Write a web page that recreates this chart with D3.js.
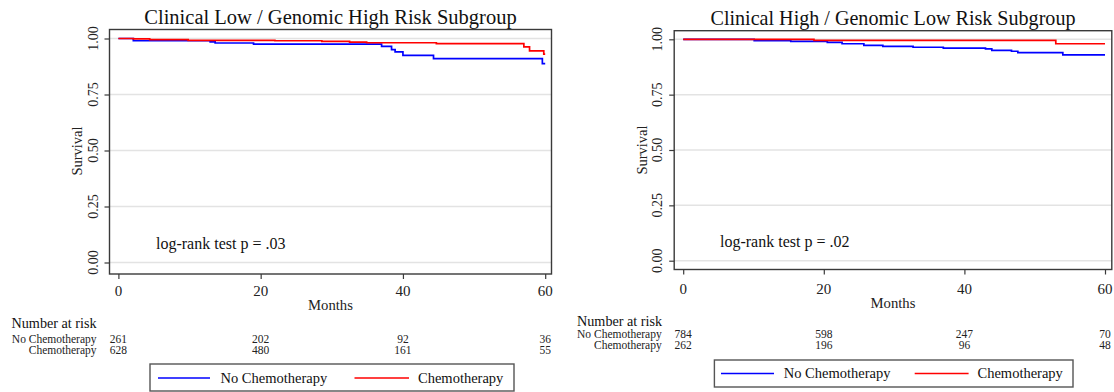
<!DOCTYPE html>
<html><head><meta charset="utf-8">
<script src="https://cdn.jsdelivr.net/npm/d3@7"></script>
<style>html,body{margin:0;padding:0;background:#fff;}svg{display:block;font-family:"Liberation Serif","Times New Roman",serif;}</style>
</head><body>
<svg id="chart" width="1114" height="392"></svg>
<script>
// ---- data ----
const xTicks = [0, 20, 40, 60];
const yTicks = [0, 0.25, 0.5, 0.75, 1];
const yTickLabels = ["0.00", "0.25", "0.50", "0.75", "1.00"];
const seriesNames = ["No Chemotherapy", "Chemotherapy"];
const titles = ["Clinical Low / Genomic High Risk Subgroup", "Clinical High / Genomic Low Risk Subgroup"];
const pTexts = ["log-rank test p = .03", "log-rank test p = .02"];

const leftNoChemoT = [0, 2.1, 12.9, 13.6, 19, 37, 38.4, 38.9, 40, 44.3, 59.6, 60];
const leftNoChemoS = [1.0, 0.990, 0.985, 0.980, 0.975, 0.965, 0.950, 0.940, 0.925, 0.910, 0.888, 0.888];
const leftChemoT = [0, 2.1, 4.4, 9.8, 22, 28.6, 32.5, 34.9, 44.7, 57.0, 57.8, 59.8, 60];
const leftChemoS = [1.0, 0.998, 0.995, 0.992, 0.990, 0.987, 0.984, 0.981, 0.977, 0.963, 0.945, 0.930, 0.930];

const rightNoChemoT = [0, 10.1, 15.3, 20.5, 22.6, 25.7, 28.4, 32.7, 37, 43, 43.9, 46.7, 47.6, 54, 60];
const rightNoChemoS = [1.0, 0.994, 0.991, 0.986, 0.980, 0.973, 0.968, 0.964, 0.960, 0.957, 0.950, 0.946, 0.940, 0.930, 0.930];
const rightChemoT = [0, 18.6, 53, 60];
const rightChemoS = [1.0, 0.995, 0.980, 0.980];

const leftRiskNoChemo = [261, 202, 92, 36];
const leftRiskChemo = [628, 480, 161, 55];
const rightRiskNoChemo = [784, 598, 247, 70];
const rightRiskChemo = [262, 196, 96, 48];

const colors = ["#0000ff", "#ff0000"];

// ---- layout ----
const panels = [
  {title: titles[0], p: pTexts[0],
   curves: [[leftNoChemoT, leftNoChemoS], [leftChemoT, leftChemoS]],
   risk: [leftRiskNoChemo, leftRiskChemo],
   frame: {l: 109.5, r: 551.5, t: 29.5, b: 274},
   xr: [118.4, 545.2], yr: [262.5, 38.5],
   titleY: 24, titleSize: 20.5,
   ylabX: 93, survX: 77, survY: 151,
   xlabY: 295.5, monthsY: 309.5,
   pX: 156, pY: 248.5,
   narX: 11.5, narY: 327.5, rowLabX: 96.5, rowY: [342.5, 354],
   leg: {x1: 150, x2: 514, y1: 364, y2: 391, lineY: 378, items: [[158, 210, 220.5], [354.5, 409, 418]], textY: 383.3}
  },
  {title: titles[1], p: pTexts[1],
   curves: [[rightNoChemoT, rightNoChemoS], [rightChemoT, rightChemoS]],
   risk: [rightRiskNoChemo, rightRiskChemo],
   frame: {l: 674.2, r: 1111.8, t: 30.7, b: 269.5},
   xr: [683.2, 1105], yr: [260.7, 39.3],
   titleY: 25, titleSize: 20.1,
   ylabX: 657.5, survX: 642, survY: 150,
   xlabY: 293.5, monthsY: 308,
   pX: 720, pY: 246.5,
   narX: 577, narY: 325.5, rowLabX: 661.7, rowY: [337.5, 348.5],
   leg: {x1: 714.4, x2: 1073, y1: 360, y2: 387, lineY: 373.5, items: [[721, 774, 783.7], [914.7, 968.6, 977.5]], textY: 377.5}
  }
];

const svg = d3.select("#chart");

panels.forEach(P => {
  const g = svg.append("g");
  const x = d3.scaleLinear().domain([0, 60]).range(P.xr);
  const y = d3.scaleLinear().domain([0, 1]).range(P.yr);
  const f = P.frame;

  g.append("text").attr("x", (f.l + f.r) / 2).attr("y", P.titleY)
    .attr("text-anchor", "middle").attr("font-size", P.titleSize).attr("fill", "#111").text(P.title);

  g.selectAll(".grid").data(yTicks).join("line")
    .attr("x1", f.l).attr("x2", f.r)
    .attr("y1", d => y(d)).attr("y2", d => y(d))
    .attr("stroke", "#e3e3e3").attr("stroke-width", 1.5);

  P.curves.forEach((c, i) => {
    const pts = c[0].map((t, k) => [t, c[1][k]]);
    g.append("path").datum(pts)
      .attr("d", d3.line().x(d => x(d[0])).y(d => y(d[1])).curve(d3.curveStepAfter))
      .attr("fill", "none").attr("stroke", colors[i]).attr("stroke-width", 1.7);
  });

  g.append("rect").attr("x", f.l).attr("y", f.t).attr("width", f.r - f.l).attr("height", f.b - f.t)
    .attr("fill", "none").attr("stroke", "#3a3a3a").attr("stroke-width", 1.4);

  const yAxis = d3.axisLeft(y).tickValues(yTicks).tickSize(5).tickFormat((d, i) => yTickLabels[i]);
  const ya = g.append("g").attr("transform", `translate(${f.l},0)`).call(yAxis);
  ya.select(".domain").remove();
  ya.selectAll(".tick line").attr("stroke", "#3a3a3a").attr("stroke-width", 1.2);
  ya.selectAll(".tick text").remove();
  g.selectAll(".ylab").data(yTicks).join("text")
    .attr("transform", (d) => `translate(${P.ylabX},${y(d)}) rotate(-90)`)
    .attr("text-anchor", "middle").attr("dominant-baseline", "central")
    .attr("font-size", 14).attr("fill", "#222")
    .text((d, i) => yTickLabels[i]);

  const xAxis = d3.axisBottom(x).tickValues(xTicks).tickSize(5).tickFormat(d3.format("d"));
  const xa = g.append("g").attr("transform", `translate(0,${f.b})`).call(xAxis);
  xa.select(".domain").remove();
  xa.selectAll(".tick line").attr("stroke", "#3a3a3a").attr("stroke-width", 1.2);
  xa.selectAll(".tick text").remove();
  g.selectAll(".xlab").data(xTicks).join("text")
    .attr("x", d => x(d)).attr("y", P.xlabY)
    .attr("text-anchor", "middle").attr("font-size", 15).attr("fill", "#222").text(d => d);

  g.append("text").attr("x", (f.l + f.r) / 2).attr("y", P.monthsY)
    .attr("text-anchor", "middle").attr("font-size", 14.7).attr("fill", "#222").text("Months");
  g.append("text").attr("transform", `translate(${P.survX},${P.survY}) rotate(-90)`)
    .attr("text-anchor", "middle").attr("dominant-baseline", "central")
    .attr("font-size", 14.5).attr("fill", "#222").text("Survival");

  g.append("text").attr("x", P.pX).attr("y", P.pY)
    .attr("font-size", 16).attr("fill", "#111").text(P.p);

  g.append("text").attr("x", P.narX).attr("y", P.narY)
    .attr("font-size", 14.2).attr("fill", "#111").text("Number at risk");
  seriesNames.forEach((nm, i) => {
    g.append("text").attr("x", P.rowLabX).attr("y", P.rowY[i])
      .attr("text-anchor", "end").attr("font-size", 11.5).attr("fill", "#222").text(nm);
    g.selectAll(".risk" + i).data(P.risk[i]).join("text")
      .attr("x", (d, k) => x(xTicks[k])).attr("y", P.rowY[i])
      .attr("text-anchor", "middle").attr("font-size", 11.5).attr("fill", "#222").text(d => d);
  });

  const L = P.leg;
  g.append("rect").attr("x", L.x1).attr("y", L.y1).attr("width", L.x2 - L.x1).attr("height", L.y2 - L.y1)
    .attr("fill", "#fff").attr("stroke", "#555").attr("stroke-width", 1.4);
  seriesNames.forEach((nm, i) => {
    const it = L.items[i];
    g.append("line").attr("x1", it[0]).attr("x2", it[1]).attr("y1", L.lineY).attr("y2", L.lineY)
      .attr("stroke", colors[i]).attr("stroke-width", 1.7);
    g.append("text").attr("x", it[2]).attr("y", L.textY)
      .attr("font-size", 14.5).attr("fill", "#111").text(nm);
  });
});
</script>
</body></html>
